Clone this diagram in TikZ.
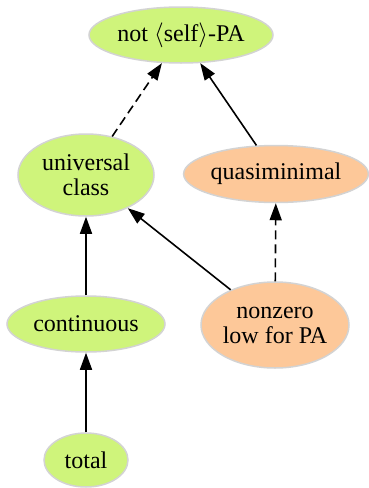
\documentclass[tikz,border=0pt]{standalone}
\usepackage{fontspec}
\setmainfont{Liberation Serif}
\usetikzlibrary{shapes.geometric,arrows.meta}
\definecolor{gfill}{HTML}{CFF47B}
\definecolor{ofill}{HTML}{FDC899}
\definecolor{bord}{HTML}{D3D3D3}
\tikzset{
  nd/.style={ellipse, draw=bord, line width=1.5pt, inner sep=0pt, align=center,
    font=\fontsize{24}{25}\selectfont},
  gn/.style={nd, fill=gfill},
  on/.style={nd, fill=ofill},
  edge/.style={line width=1.6pt, -{Triangle[length=17pt,width=12pt]}},
  dedge/.style={edge, dash pattern=on 9pt off 5pt},
}
\begin{document}
\begin{tikzpicture}[x=1pt,y=1pt]
\useasboundingbox (0,0) rectangle (368,-488);
\node[gn, minimum width=184pt, minimum height=56pt] (notself) at (181,-35) {not $\langle$self$\rangle$-PA};
\node[gn, minimum width=136pt, minimum height=82pt] (univ) at (86,-175) {universal\\class};
\node[on, minimum width=180pt, minimum height=57pt] (quasi) at (276,-174) {quasiminimal};
\node[gn, minimum width=158pt, minimum height=56pt] (cont) at (86,-324) {continuous};
\node[on, minimum width=148pt, minimum height=86pt] (nonzero) at (275,-325) {nonzero\\low for PA};
\node[gn, minimum width=84pt, minimum height=54pt] (total) at (86,-460) {total};
\draw[edge] (total) -- (cont);
\draw[edge] (cont) -- (univ);
\draw[edge] (nonzero) -- (univ);
\draw[dedge] (nonzero) -- (quasi);
\draw[edge] (quasi) -- (notself);
\draw[dedge] (univ) -- (notself);
\end{tikzpicture}
\end{document}
